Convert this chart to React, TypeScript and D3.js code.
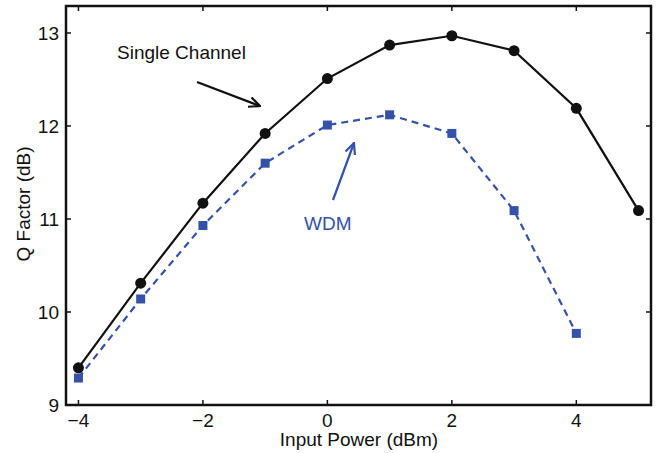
import React from "react";
import * as d3 from "d3";

const powers = [-4, -3, -2, -1, 0, 1, 2, 3, 4, 5];
const singleChannel = [9.4, 10.31, 11.17, 11.92, 12.51, 12.87, 12.97, 12.81, 12.19, 11.09];
const wdmPowers = [-4, -3, -2, -1, 0, 1, 2, 3, 4];
const wdm = [9.29, 10.14, 10.93, 11.6, 12.01, 12.12, 11.92, 11.09, 9.77];
const xTicks = [-4, -2, 0, 2, 4];
const yTicks = [9, 10, 11, 12, 13];

const W = 656, H = 453;
const L = 66, R = 651, T = 6, B = 405;
const BLUE = "#3352a8";
const FONT = "Liberation Sans, Arial, Helvetica, sans-serif";
const FS = 19;

export default function App() {
  const x = d3.scaleLinear().domain([-4.2, 5.2]).range([L, R]);
  const y = d3.scaleLinear().domain([9, 13.29]).range([B, T]);
  const sPts = powers.map((p, i) => [x(p), y(singleChannel[i])] as [number, number]);
  const wPts = wdmPowers.map((p, i) => [x(p), y(wdm[i])] as [number, number]);
  const line = d3.line();
  const tl = 5;
  return (
    <svg width={W} height={H} style={{ position: "absolute", left: 0, top: 0 }}>
      <defs>
        <marker id="ahK" viewBox="0 0 12 12" refX="11" refY="6" markerWidth="12" markerHeight="12" markerUnits="userSpaceOnUse" orient="auto">
          <path d="M0,1 L11,6 L0,11" fill="none" stroke="#111" strokeWidth="2.2" />
        </marker>
        <marker id="ahB" viewBox="0 0 12 12" refX="11" refY="6" markerWidth="12" markerHeight="12" markerUnits="userSpaceOnUse" orient="auto">
          <path d="M0,1 L11,6 L0,11" fill="none" stroke={BLUE} strokeWidth="2.2" />
        </marker>
      </defs>
      <rect x={0} y={0} width={W} height={H} fill="white" />
      {xTicks.map((t) => (
        <g key={"x" + t}>
          <line x1={x(t)} x2={x(t)} y1={B} y2={B - tl} stroke="#111" strokeWidth={1.5} />
          <line x1={x(t)} x2={x(t)} y1={T} y2={T + tl} stroke="#111" strokeWidth={1.5} />
          <text x={x(t)} y={427} textAnchor="middle" fontFamily={FONT} fontSize={FS} fill="#111">
            {t < 0 ? "\u2212" + Math.abs(t) : String(t)}
          </text>
        </g>
      ))}
      {yTicks.map((t) => (
        <g key={"y" + t}>
          <line x1={L} x2={L + tl} y1={y(t)} y2={y(t)} stroke="#111" strokeWidth={1.5} />
          <line x1={R} x2={R - tl} y1={y(t)} y2={y(t)} stroke="#111" strokeWidth={1.5} />
          <text x={59} y={y(t) + 7} textAnchor="end" fontFamily={FONT} fontSize={FS} fill="#111">
            {t}
          </text>
        </g>
      ))}
      <rect x={L} y={T} width={R - L} height={B - T} fill="none" stroke="#111" strokeWidth={2.5} />
      <path d={line(wPts) || ""} fill="none" stroke={BLUE} strokeWidth={2.2} strokeDasharray="7,5" />
      <path d={line(sPts) || ""} fill="none" stroke="#111" strokeWidth={2.2} />
      {sPts.map((p, i) => (
        <circle key={"s" + i} cx={p[0]} cy={p[1]} r={5.5} fill="#111" />
      ))}
      {wPts.map((p, i) => (
        <rect key={"w" + i} x={p[0] - 4.5} y={p[1] - 4.5} width={9} height={9} fill={BLUE} />
      ))}
      <text x={117} y={59} fontFamily={FONT} fontSize={FS} fill="#111">Single Channel</text>
      <line x1={197} y1={82} x2={260} y2={106} stroke="#111" strokeWidth={2.2} markerEnd="url(#ahK)" />
      <text x={304} y={230} fontFamily={FONT} fontSize={FS} fill={BLUE}>WDM</text>
      <line x1={333} y1={200} x2={354} y2={143} stroke={BLUE} strokeWidth={2.2} markerEnd="url(#ahB)" />
      <text x={359} y={446} textAnchor="middle" fontFamily={FONT} fontSize={FS} fill="#111">Input Power (dBm)</text>
      <text transform={`translate(30,204) rotate(-90)`} textAnchor="middle" fontFamily={FONT} fontSize={FS} fill="#111">Q Factor (dB)</text>
    </svg>
  );
}
